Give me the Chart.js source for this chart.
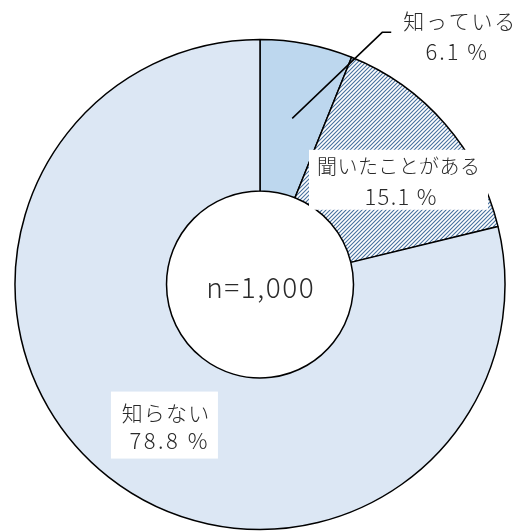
<!DOCTYPE html>
<html>
<head>
<meta charset="utf-8">
<script src="https://cdn.jsdelivr.net/npm/chart.js@4"></script>
<style>
  html, body { margin: 0; padding: 0; background: #fff; }
  #chart { display: block; }
</style>
</head>
<body>
<canvas id="chart" width="521" height="531"></canvas>
<script>
const categories = ['知っている', '聞いたことがある', '知らない'];
const shares = [6.1, 15.1, 78.8];
const sampleLabel = 'n=1,000';

const FONT = '"Noto Sans CJK JP", "Noto Sans", sans-serif';

// diagonal hatch for the middle slice
function makeHatch() {
  const size = 4;
  const c = document.createElement('canvas');
  c.width = size; c.height = size;
  const g = c.getContext('2d');
  g.fillStyle = '#ffffff';
  g.fillRect(0, 0, size, size);
  g.strokeStyle = '#46709e';
  g.lineWidth = 1.1;
  g.beginPath();
  g.moveTo(0, size); g.lineTo(size, 0);
  g.moveTo(-1, 1); g.lineTo(1, -1);
  g.moveTo(size - 1, size + 1); g.lineTo(size + 1, size - 1);
  g.stroke();
  return g.createPattern(c, 'repeat');
}

function spacedText(c, text, x, y, size, spacing) {
  c.font = '300 ' + size + 'px ' + FONT;
  c.letterSpacing = spacing + 'px';
  c.fillText(text, x + spacing / 2, y);
  c.letterSpacing = '0px';
}

const ctx = document.getElementById('chart').getContext('2d');

const labelPlugin = {
  id: 'sliceLabels',
  afterDraw(chart) {
    const c = chart.ctx;
    const arcs = chart.getDatasetMeta(0).data;
    const area = chart.chartArea;
    c.save();
    c.fillStyle = '#2a2a2a';
    c.textAlign = 'center';
    c.textBaseline = 'middle';

    // 知っている : leader line outside
    let p = arcs[0].tooltipPosition();
    c.strokeStyle = '#000';
    c.lineWidth = 1.5;
    c.beginPath();
    c.moveTo(p.x, p.y);
    c.lineTo(p.x + 90, p.y - 86);
    c.lineTo(p.x + 99, p.y - 86);
    c.stroke();
    spacedText(c, categories[0], p.x + 167, p.y - 97, 21, 1.8);
    spacedText(c, shares[0].toFixed(1) + ' %', p.x + 164, p.y - 67, 22, 2);

    // 聞いたことがある : boxed label
    p = arcs[1].tooltipPosition();
    let bx = p.x + 10.5, by = p.y + 6;
    c.fillStyle = '#fff';
    c.fillRect(bx - 89.5, by - 30, 179, 60);
    c.fillStyle = '#2a2a2a';
    spacedText(c, categories[1], bx, by - 13, 20, 0.4);
    spacedText(c, shares[1].toFixed(1) + ' %', bx + 2, by + 17, 22, 1.3);

    // 知らない : boxed label
    p = arcs[2].tooltipPosition();
    bx = p.x + 9; by = p.y + 7.5;
    c.fillStyle = '#fff';
    c.fillRect(bx - 53.5, by - 33.5, 107, 67);
    c.fillStyle = '#2a2a2a';
    spacedText(c, categories[2], bx + 1, by - 12.5, 21, 1.2);
    spacedText(c, shares[2].toFixed(1) + ' %', bx + 4, by + 15.5, 22, 2.5);

    // sample size in the hole
    const cx = (area.left + area.right) / 2;
    const cy = (area.top + area.bottom) / 2;
    spacedText(c, sampleLabel, cx, cy + 3, 28, 1.5);
    c.restore();
  }
};

new Chart(ctx, {
  type: 'doughnut',
  data: {
    labels: categories,
    datasets: [{
      data: shares,
      backgroundColor: ['#bdd7ee', makeHatch(), '#dce7f4'],
      borderColor: '#000',
      borderWidth: 1.5
    }]
  },
  options: {
    responsive: false,
    animation: false,
    radius: 245,
    cutout: 93,
    layout: { padding: { left: 14, right: 15, top: 40, bottom: 2 } },
    plugins: {
      legend: { display: false },
      tooltip: { enabled: false }
    }
  },
  plugins: [labelPlugin]
});
</script>
</body>
</html>
